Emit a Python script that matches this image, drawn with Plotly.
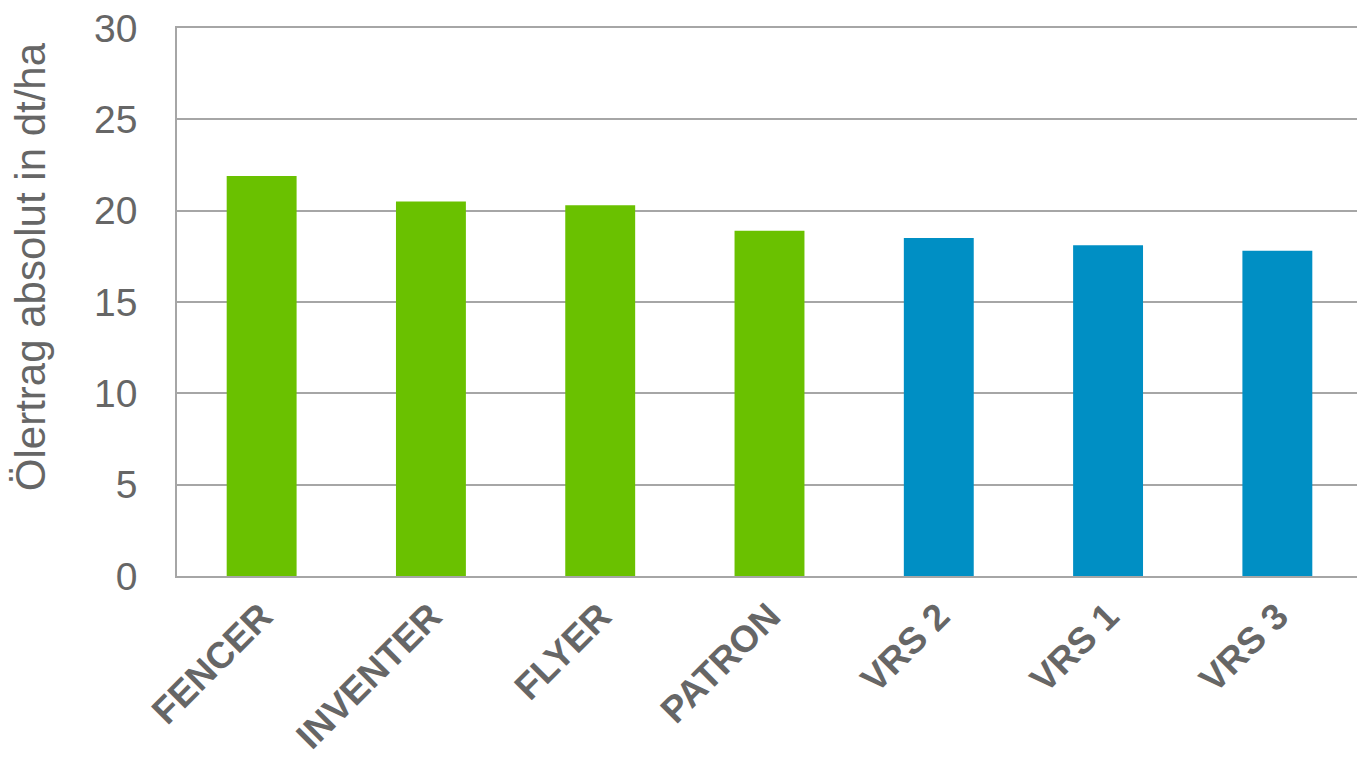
import plotly.graph_objects as go

categories = ["FENCER", "INVENTER", "FLYER", "PATRON", "VRS 2", "VRS 1", "VRS 3"]
values = [21.9, 20.5, 20.3, 18.9, 18.5, 18.1, 17.8]
colors = ["#6AC100", "#6AC100", "#6AC100", "#6AC100", "#008FC4", "#008FC4", "#008FC4"]
y_ticks = [0, 5, 10, 15, 20, 25, 30]
y_title = "Ölertrag absolut in dt/ha"

fig = go.Figure(go.Bar(x=categories, y=values, marker=dict(color=colors, line=dict(width=0)), width=0.413))

fig.update_layout(
    width=1365, height=761,
    margin=dict(l=169, r=11, t=20, b=193, autoexpand=False),
    plot_bgcolor="white", paper_bgcolor="white",
    showlegend=False,
    font=dict(family="Liberation Sans, Arial, sans-serif", color="#666666"),
)
fig.update_yaxes(
    range=[0, 30], tickvals=y_ticks, showgrid=True, gridcolor="#A6A6A6", gridwidth=1.5,
    showline=True, linecolor="#A6A6A6", linewidth=1.5, zeroline=False,
    tickfont=dict(size=39, color="#666666"), ticklabelstandoff=30,
    ticklabeloverflow="allow",
    automargin=False,
)
fig.update_xaxes(
    showline=True, mirror=True, linecolor="#A6A6A6", linewidth=1.5, tickangle=-45,
    tickfont=dict(size=37, color="#666666", weight="bold"), automargin=False,
    ticklabelstandoff=2,
)
fig.add_annotation(
    text=y_title, textangle=-90, xref="paper", yref="paper",
    x=-0.123, y=0.564, xanchor="center", yanchor="middle", showarrow=False,
    font=dict(size=42, color="#666666"),
)
fig.write_html("out.html")
